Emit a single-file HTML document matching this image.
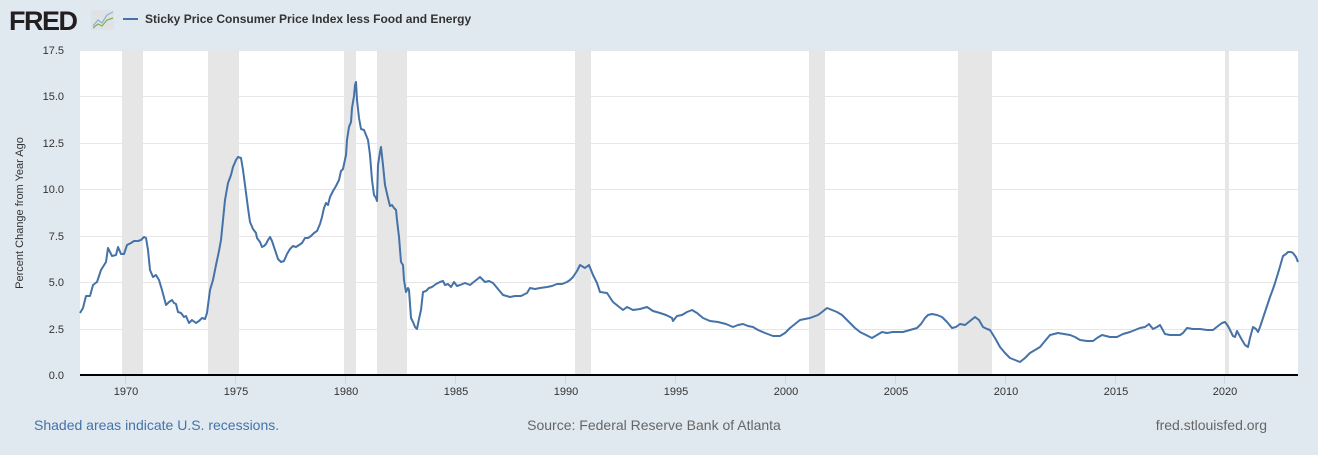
<!DOCTYPE html>
<html><head><style>
body{margin:0;background:#e1e9f0;width:1318px;height:450px;overflow:hidden;font-family:"Liberation Sans",Arial,sans-serif;}
</style></head><body>
<svg width="1318" height="450" xmlns="http://www.w3.org/2000/svg" font-family="Liberation Sans, Arial, sans-serif">
<rect width="1318" height="450" fill="#e1e9f0"/>
<text x="9" y="30" font-size="27" font-weight="bold" fill="#231f20" letter-spacing="-1.5">FRED</text>
<rect x="91" y="10" width="23" height="20" fill="#dfe3e6"/>
<polyline points="93,26 98,20 102,23 107,15 113,12" fill="none" stroke="#8ab0d6" stroke-width="1.2"/>
<polyline points="93,28 98,24 102,26 107,20 113,18" fill="none" stroke="#7fb24a" stroke-width="1.2"/>
<line x1="123" y1="19" x2="138" y2="19" stroke="#4572a7" stroke-width="2"/>
<text x="145" y="23" font-size="12" font-weight="bold" fill="#333">Sticky Price Consumer Price Index less Food and Energy</text>
<rect x="80" y="50" width="1218" height="325" fill="#fff"/>
<g fill="#e6e6e6">
<rect x="122" y="50" width="21" height="325"/><rect x="208" y="50" width="31" height="325"/>
<rect x="344" y="50" width="12" height="325"/><rect x="377" y="50" width="30" height="325"/>
<rect x="575" y="50" width="16" height="325"/><rect x="809" y="50" width="16" height="325"/>
<rect x="958" y="50" width="34" height="325"/><rect x="1225" y="50" width="4" height="325"/>
</g>
<g stroke="#e6e6e6" stroke-width="1">
<line x1="80" x2="1298" y1="50.5" y2="50.5"/><line x1="80" x2="1298" y1="96.5" y2="96.5"/>
<line x1="80" x2="1298" y1="143.5" y2="143.5"/><line x1="80" x2="1298" y1="189.5" y2="189.5"/>
<line x1="80" x2="1298" y1="236.5" y2="236.5"/><line x1="80" x2="1298" y1="282.5" y2="282.5"/>
<line x1="80" x2="1298" y1="329.5" y2="329.5"/>
</g>
<g font-size="11" fill="#333" text-anchor="end">
<text x="64" y="54">17.5</text><text x="64" y="100">15.0</text><text x="64" y="147">12.5</text>
<text x="64" y="193">10.0</text><text x="64" y="240">7.5</text><text x="64" y="286">5.0</text>
<text x="64" y="333">2.5</text><text x="64" y="379">0.0</text>
</g>
<text transform="translate(23,213) rotate(-90)" font-size="11" fill="#333" text-anchor="middle">Percent Change from Year Ago</text>
<g stroke="#ccd6eb" stroke-width="1">
<line x1="125.5" x2="125.5" y1="376" y2="384"/><line x1="235.5" x2="235.5" y1="376" y2="384"/>
<line x1="345.5" x2="345.5" y1="376" y2="384"/><line x1="455.5" x2="455.5" y1="376" y2="384"/>
<line x1="565.5" x2="565.5" y1="376" y2="384"/><line x1="675.5" x2="675.5" y1="376" y2="384"/>
<line x1="785.5" x2="785.5" y1="376" y2="384"/><line x1="895.5" x2="895.5" y1="376" y2="384"/>
<line x1="1005.5" x2="1005.5" y1="376" y2="384"/><line x1="1115.5" x2="1115.5" y1="376" y2="384"/>
<line x1="1224.5" x2="1224.5" y1="376" y2="384"/>
</g>
<g font-size="11" fill="#333" text-anchor="middle">
<text x="126" y="395">1970</text><text x="236" y="395">1975</text><text x="346" y="395">1980</text>
<text x="456" y="395">1985</text><text x="566" y="395">1990</text><text x="676" y="395">1995</text>
<text x="786" y="395">2000</text><text x="896" y="395">2005</text><text x="1006" y="395">2010</text>
<text x="1116" y="395">2015</text><text x="1225" y="395">2020</text>
</g>
<polyline fill="none" stroke="#4572a7" stroke-width="2" stroke-linejoin="round" points="80,313 83,308 86,296 90,296 93,285 97,282 101,270 106,262 108,248 112,256 116,255 118,247 121,254 124,254 127,245 131,243 134,241 138,241 141,240 144,237 146,238 148,250 150,270 153,277 156,275 159,280 162,290 166,305 169,302 172,300 174,303 176,304 178,312 181,313 184,317 186,316 189,323 192,320 196,323 199,321 202,318 205,319 207,313 210,290 213,280 216,265 219,251 221,240 223,220 225,200 228,183 231,175 233,167 236,160 238,157 241,158 243,170 245,185 248,208 250,222 253,229 256,233 257,238 260,242 262,247 264,246 266,244 268,240 270,237 272,241 275,250 278,259 281,262 284,261 287,254 290,249 293,246 296,247 299,245 302,243 305,238 308,238 311,236 314,233 317,231 320,224 322,217 324,208 326,203 328,205 330,197 333,191 336,186 339,180 341,171 343,169 346,155 347,140 349,127 351,122 352,108 354,96 355,85 356,82 357,100 359,118 361,129 364,130 366,135 368,140 370,155 372,180 374,195 376,198 377,201 378,165 380,152 381,147 383,165 385,185 388,198 390,206 392,205 394,208 396,210 397,220 399,237 401,262 403,265 404,280 406,292 408,288 409,290 411,318 413,322 415,327 417,329 419,319 421,310 423,292 426,291 429,288 432,287 436,284 440,282 443,281 445,285 448,284 451,287 454,282 457,286 460,285 465,283 470,285 475,281 480,277 485,282 489,281 493,283 498,289 503,295 510,297 515,296 521,296 527,293 530,288 535,289 540,288 547,287 552,286 557,284 562,284 567,282 570,280 573,277 577,271 580,265 585,268 589,265 593,275 597,283 600,292 607,293 613,302 618,306 623,310 627,307 633,310 640,309 647,307 653,311 660,313 666,315 672,318 673,321 677,316 682,315 687,312 692,310 697,313 703,318 710,321 718,322 726,324 733,327 738,325 743,324 748,326 753,327 758,330 765,333 773,336 780,336 785,333 790,328 795,324 800,320 805,319 810,318 818,315 822,312 827,308 832,310 837,312 842,315 846,319 850,323 855,328 860,332 866,335 872,338 877,335 882,332 887,333 893,332 898,332 903,332 910,330 917,328 921,324 925,318 928,315 932,314 937,315 942,317 947,322 952,328 956,327 960,324 965,325 970,321 975,317 979,320 983,327 987,329 990,330 995,338 1000,347 1005,353 1010,358 1015,360 1020,362 1025,358 1030,353 1035,350 1040,347 1045,341 1050,335 1054,334 1058,333 1064,334 1070,335 1075,337 1080,340 1087,341 1093,341 1097,338 1102,335 1106,336 1110,337 1117,337 1123,334 1130,332 1135,330 1140,328 1145,327 1149,324 1153,329 1157,327 1160,325 1165,334 1170,335 1175,335 1180,335 1183,333 1187,328 1193,329 1200,329 1207,330 1213,330 1218,326 1222,323 1225,322 1228,326 1230,330 1233,336 1235,337 1237,331 1242,340 1245,345 1248,347 1250,338 1253,327 1256,329 1258,332 1260,327 1263,318 1267,306 1270,297 1273,289 1275,283 1279,270 1283,256 1286,254 1288,252 1291,252 1293,253 1296,257 1298,262"/>
<line x1="80" x2="1298" y1="375" y2="375" stroke="#000" stroke-width="2"/>
<text x="34" y="430" font-size="14" fill="#4572a7">Shaded areas indicate U.S. recessions.</text>
<text x="654" y="430" font-size="14" fill="#666" text-anchor="middle">Source: Federal Reserve Bank of Atlanta</text>
<text x="1267" y="430" font-size="14" fill="#666" text-anchor="end">fred.stlouisfed.org</text>
</svg>
</body></html>
